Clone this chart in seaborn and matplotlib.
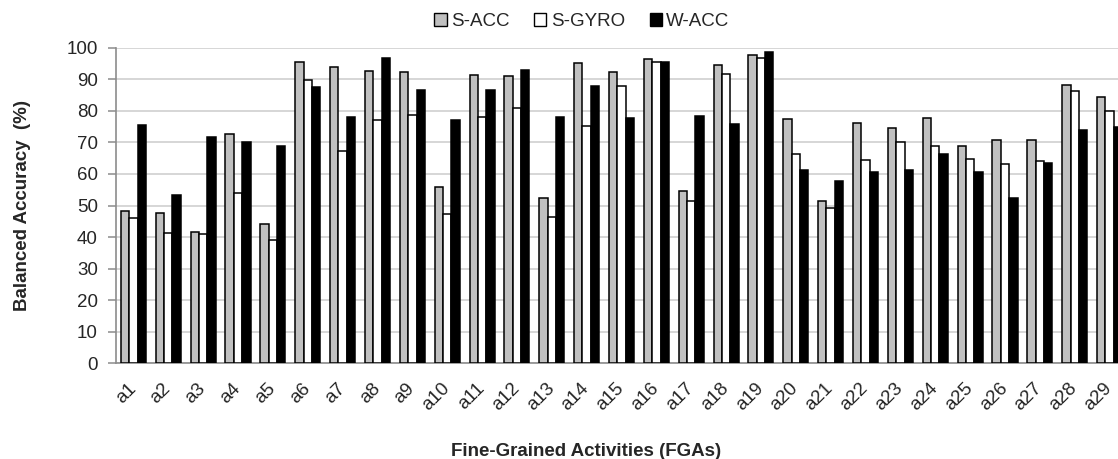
import numpy as np
import pandas as pd
import matplotlib
matplotlib.use("Agg")
import matplotlib.pyplot as plt
import matplotlib.transforms as mtransforms
import seaborn as sns
from matplotlib.patches import Patch

categories = [f"a{i}" for i in range(1, 30)]
s_acc = [48.3, 47.7, 41.6, 72.5, 44.0, 95.6, 94.0, 92.7, 92.2, 55.8,
         91.4, 91.1, 52.5, 95.2, 92.4, 96.5, 54.7, 94.5, 97.8, 77.3,
         51.4, 76.2, 74.4, 77.8, 69.0, 70.7, 70.6, 88.2, 84.3]
s_gyro = [46.1, 41.3, 40.9, 54.1, 39.2, 89.7, 67.3, 77.2, 78.8, 47.4,
          78.1, 81.0, 46.5, 75.1, 87.9, 95.4, 51.5, 91.8, 96.8, 66.4,
          49.3, 64.4, 70.1, 68.7, 64.6, 63.3, 64.2, 86.4, 79.9]
w_acc = [75.6, 53.4, 71.8, 70.2, 69.0, 87.5, 77.9, 96.6, 86.6, 77.2,
         86.6, 92.9, 78.1, 87.9, 77.8, 95.6, 78.4, 75.7, 98.7, 61.4,
         57.9, 60.6, 61.2, 66.3, 60.6, 52.4, 63.6, 74.0, 74.9]
series_names = ["S-ACC", "S-GYRO", "W-ACC"]
colors = {"S-ACC": "#C0C0C0", "S-GYRO": "#FFFFFF", "W-ACC": "#000000"}

df = pd.DataFrame({
    "cat": categories * 3,
    "val": s_acc + s_gyro + w_acc,
    "series": [s for s in series_names for _ in categories],
})

sns.set_theme(style="white")
plt.rcParams["font.family"] = ["Liberation Sans", "DejaVu Sans"]

fig = plt.figure(figsize=(11.18, 4.59), dpi=100)
ax = fig.add_axes([116 / 1118, 95.7 / 459, 1011 / 1118, 315.6 / 459])

sns.barplot(data=df, x="cat", y="val", hue="series", order=categories,
            hue_order=series_names, palette=colors, width=0.72, gap=0,
            edgecolor="black", linewidth=1.1, ax=ax, legend=False,
            errorbar=None, zorder=3)

ax.set_ylim(0, 100)
ax.set_xlim(-0.5, 28.5)
ax.set_yticks(np.arange(0, 101, 10))
ax.yaxis.grid(True, color="#D0D0D0", linewidth=1.2, zorder=0)
ax.set_axisbelow(True)
for s in ["top", "right"]:
    ax.spines[s].set_visible(False)
for s in ["left", "bottom"]:
    ax.spines[s].set_color("#8C8C8C")
    ax.spines[s].set_linewidth(1.2)

ax.tick_params(axis="y", which="major", left=True, length=6, width=1.1,
               color="#8C8C8C", labelsize=13.5, pad=7)
ax.tick_params(axis="x", bottom=False, labelsize=13.5, pad=6)
offset = mtransforms.ScaledTranslation(6 / 100, 0, fig.dpi_scale_trans)
for lab in ax.get_xticklabels():
    lab.set_rotation(45)
    lab.set_ha("right")
    lab.set_va("top")
    lab.set_rotation_mode("default")
    lab.set_transform(lab.get_transform() + offset)

ax.set_xlabel("")
fig.text(586 / 1118, 1 - 452 / 459, "Fine-Grained Activities (FGAs)",
         fontsize=13.5, fontweight="bold", ha="center", va="center")
ax.set_ylabel("Balanced Accuracy  (%)", fontsize=13.5, fontweight="bold")
ax.yaxis.set_label_coords(-(116 - 31) / 1011, 0.5)

handles = [Patch(facecolor=colors[s], edgecolor="black", linewidth=1, label=s)
           for s in series_names]
fig.legend(handles=handles, loc="center", bbox_to_anchor=(582 / 1118, 1 - 21.7 / 459),
           ncol=3, frameon=False, fontsize=13.5, handlelength=0.65,
           handleheight=0.65, handletextpad=0.25, columnspacing=1.3)

fig.savefig("out.png", dpi=100)
